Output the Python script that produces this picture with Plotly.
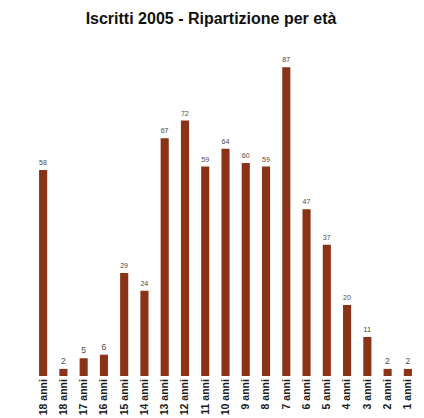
import plotly.graph_objects as go

categories = ["18 anni", "18 anni", "17 anni", "16 anni", "15 anni", "14 anni", "13 anni",
              "12 anni", "11 anni", "10 anni", "9 anni", "8 anni", "7 anni", "6 anni",
              "5 anni", "4 anni", "3 anni", "2 anni", "1 anni"]
values = [58, 2, 5, 6, 29, 24, 67, 72, 59, 64, 60, 59, 87, 47, 37, 20, 11, 2, 2]

positions = list(range(len(categories)))

fig = go.Figure(go.Bar(
    x=positions, y=values,
    marker=dict(color="#8B3317", line=dict(width=0)),
    text=[str(v) for v in values], textposition="outside",
    textfont=dict(family="Liberation Sans", size=8.5, color="#4a4a4a"),
    cliponaxis=False,
))

fig.update_layout(
    width=424, height=418,
    margin=dict(l=25, r=14, t=13, b=50, autoexpand=False),
    paper_bgcolor="white", plot_bgcolor="white",
    bargap=0.6,
    showlegend=False,
    title=dict(text="<b>Iscritti 2005 - Ripartizione per età</b>",
               x=(211 - 8) / 424, xanchor="center", y=1 - 10 / 418, yanchor="middle", yref="container",
               font=dict(family="Liberation Sans", size=16, color="#111111")),
    xaxis=dict(tickmode="array", tickvals=positions,
               ticktext=["<b>" + c + "</b>" for c in categories],
               tickangle=-90, range=[-0.5, len(categories) - 0.5],
               showline=False, showgrid=False, zeroline=False, ticks="", automargin=False,
               tickfont=dict(family="Liberation Sans", size=10.5, color="#1a1a1a")),
    yaxis=dict(range=[0, 100], visible=False, showgrid=False, zeroline=False, automargin=False),
)

fig.write_html("out.html")
